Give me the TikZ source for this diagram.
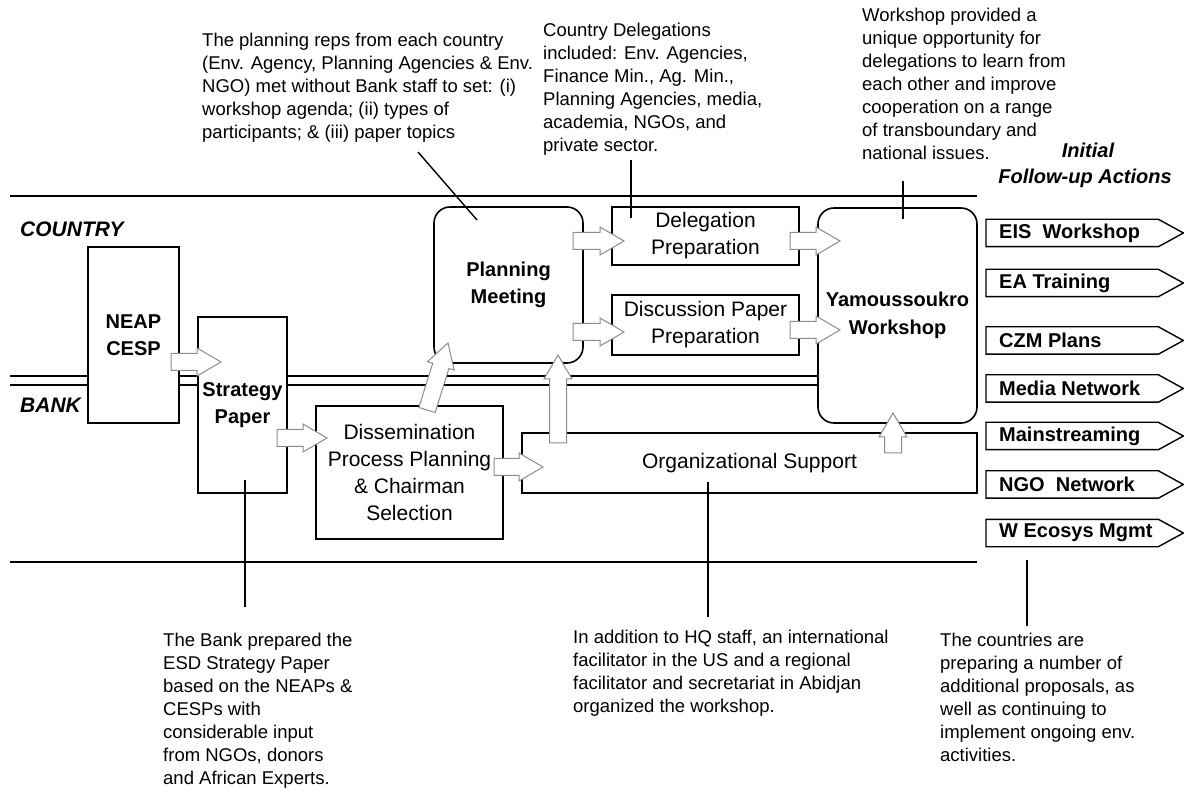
\documentclass[tikz,border=0pt]{standalone}
\usepackage{fontspec}
\setmainfont{Liberation Sans}
\usetikzlibrary{calc}

\tikzset{
  box/.style={draw, line width=1.6pt, fill=white, inner sep=0pt, align=center, font=\fontsize{21}{27}\selectfont},
  rbox/.style={box, rounded corners=16pt},
  boldtxt/.style={font=\fontsize{20}{26.5}\selectfont\bfseries},
  note/.style={anchor=north west, align=left, inner sep=0pt, font=\fontsize{18.5}{23}\selectfont},
  lane/.style={line width=1.6pt},
  lead/.style={line width=1.4pt},
  barrow/.style={draw=black!45, line width=1pt, fill=white, line join=miter},
  tagbox/.style={minimum width=172pt, minimum height=27pt, inner sep=0pt},
  tagtext/.style={anchor=west, inner sep=0pt, font=\fontsize{20}{24}\selectfont\bfseries},
  lanelabel/.style={anchor=west, inner sep=0pt, font=\fontsize{21}{25}\selectfont\bfseries\itshape},
  headtxt/.style={inner sep=0pt, font=\fontsize{20}{24}\selectfont\bfseries\itshape},
}

% hollow block arrow from #1 to #2 (shaft 17, head 28 wide, head 24 long)
\newcommand\blockarr[2]{%
  \draw[barrow] ($(#1)!8.5pt!90:(#2)$)
    -- ($(#2)!24pt!(#1)!8.5pt!90:(#2)$)
    -- ($(#2)!24pt!(#1)!14pt!90:(#2)$)
    -- (#2)
    -- ($(#2)!24pt!(#1)!14pt!-90:(#2)$)
    -- ($(#2)!24pt!(#1)!8.5pt!-90:(#2)$)
    -- ($(#1)!8.5pt!-90:(#2)$) -- cycle;}

\newcommand\tagarrow[3]{%
  \node[tagbox, anchor=west] (#1) at (986,#2) {};
  \draw[line width=1.4pt] (#1.south west) -- (#1.north west) -- (#1.north east)
     -- ([xshift=25pt]#1.east) -- (#1.south east) -- cycle;
  \node[tagtext] (#1t) at ([xshift=13pt]#1.west) {#3};}

\begin{document}
\begin{tikzpicture}[x=1pt,y=-1pt]
\useasboundingbox (0,0) rectangle (1184,791);
\fill[white] (0,0) rectangle (1184,791);

% swim lanes
\draw[lane] (10,196) -- (977,196);
\draw[lane] (10,376) -- (818,376);
\draw[lane] (10,385) -- (818,385);
\draw[lane] (10,562) -- (977,562);

\node[lanelabel] (country) at (20,229) {COUNTRY};
\node[lanelabel] (bank) at (20,405) {BANK};

\node[headtxt] (initial) at (1088,150) {Initial};
\node[headtxt] (follow) at (1085,178) {Follow-up Actions};

% boxes
\node[box, boldtxt, minimum width=91pt, minimum height=176pt] (neap) at (133.5,335) {NEAP\\CESP};
\node[box, boldtxt, minimum width=89pt, minimum height=176pt] (strat) at (242.5,405) {Strategy\\Paper};
\node[box, minimum width=187pt, minimum height=133pt] (dissem) at (409.5,472.5) {Dissemination\\Process Planning\\\& Chairman\\Selection};
\node[rbox, boldtxt, minimum width=149pt, minimum height=156pt] (plan) at (508.5,285) {Planning\\Meeting};
\node[box, minimum width=187pt, minimum height=58pt] (deleg) at (705.5,236) {Delegation\\Preparation};
\node[box, minimum width=187pt, minimum height=60pt] (disc) at (705.5,325) {Discussion Paper\\Preparation};
\node[box, minimum width=455pt, minimum height=60pt] (org) at (749.5,463) {Organizational Support};
\node[rbox, boldtxt, font=\fontsize{20}{28}\selectfont\bfseries, minimum width=159pt, minimum height=215pt] (yam) at (897.5,315.5) {Yamoussoukro\\Workshop};

% follow-up actions
\tagarrow{eis}{233}{EIS\ \ Workshop}
\tagarrow{ea}{283}{EA Training}
\tagarrow{czm}{340.5}{CZM Plans}
\tagarrow{media}{388.5}{Media Network}
\tagarrow{main}{436}{Mainstreaming}
\tagarrow{ngo}{484.5}{NGO\ \ Network}
\tagarrow{wec}{533}{W Ecosys Mgmt}

% notes
\node[note] (n1) at (202,33) {The planning reps from each country\\(Env. Agency, Planning Agencies \& Env.\\NGO) met without Bank staff to set: (i)\\workshop agenda; (ii) types of\\participants; \& (iii) paper topics};
\node[note] (n2) at (543,23) {Country Delegations\\included: Env. Agencies,\\Finance Min., Ag. Min.,\\Planning Agencies, media,\\academia, NGOs, and\\private sector.};
\node[note] (n3) at (862,8) {Workshop provided a\\unique opportunity for\\delegations to learn from\\each other and improve\\cooperation on a range\\of transboundary and\\national issues.};
\node[note] (n4) at (163,633) {The Bank prepared the\\ESD Strategy Paper\\based on the NEAPs \&\\CESPs with\\considerable input\\from NGOs, donors\\and African Experts.};
\node[note] (n5) at (573,630) {In addition to HQ staff, an international\\facilitator in the US and a regional\\facilitator and secretariat in Abidjan\\organized the workshop.};
\node[note] (n6) at (940,633) {The countries are\\preparing a number of\\additional proposals, as\\well as continuing to\\implement ongoing env.\\activities.};

% leader lines
\coordinate (l1a) at (418,152); \coordinate (l1b) at (477,220);
\coordinate (l2a) at (631,160); \coordinate (l2b) at (631,218);
\coordinate (l3a) at (903,181); \coordinate (l3b) at (903,219);
\coordinate (l4a) at (245,480); \coordinate (l4b) at (245,607);
\coordinate (l5a) at (708,482); \coordinate (l5b) at (708,617);
\coordinate (l6a) at (1027,560); \coordinate (l6b) at (1027,626);
\draw[lead] (l1a) -- (l1b);
\draw[lead] (l2a) -- (l2b);
\draw[lead] (l3a) -- (l3b);
\draw[lead] (l4a) -- (l4b);
\draw[lead] (l5a) -- (l5b);
\draw[lead] (l6a) -- (l6b);

% block arrows
\coordinate (a1s) at (171,362); \coordinate (a1e) at (221,362);
\coordinate (a2s) at (277,438); \coordinate (a2e) at (327,438);
\coordinate (a3s) at (427,410); \coordinate (a3e) at (448,343);
\coordinate (a4s) at (558,443); \coordinate (a4e) at (558,355);
\coordinate (a5s) at (573,241); \coordinate (a5e) at (624,241);
\coordinate (a6s) at (573,332); \coordinate (a6e) at (624,332);
\coordinate (a7s) at (494,467); \coordinate (a7e) at (543,467);
\coordinate (a8s) at (790,241); \coordinate (a8e) at (840,241);
\coordinate (a9s) at (790,330); \coordinate (a9e) at (840,330);
\coordinate (a10s) at (893,453); \coordinate (a10e) at (893,413);
\blockarr{a1s}{a1e}
\blockarr{a2s}{a2e}
\blockarr{a3s}{a3e}
\blockarr{a4s}{a4e}
\blockarr{a5s}{a5e}
\blockarr{a6s}{a6e}
\blockarr{a7s}{a7e}
\blockarr{a8s}{a8e}
\blockarr{a9s}{a9e}
\blockarr{a10s}{a10e}
\end{tikzpicture}
\end{document}
